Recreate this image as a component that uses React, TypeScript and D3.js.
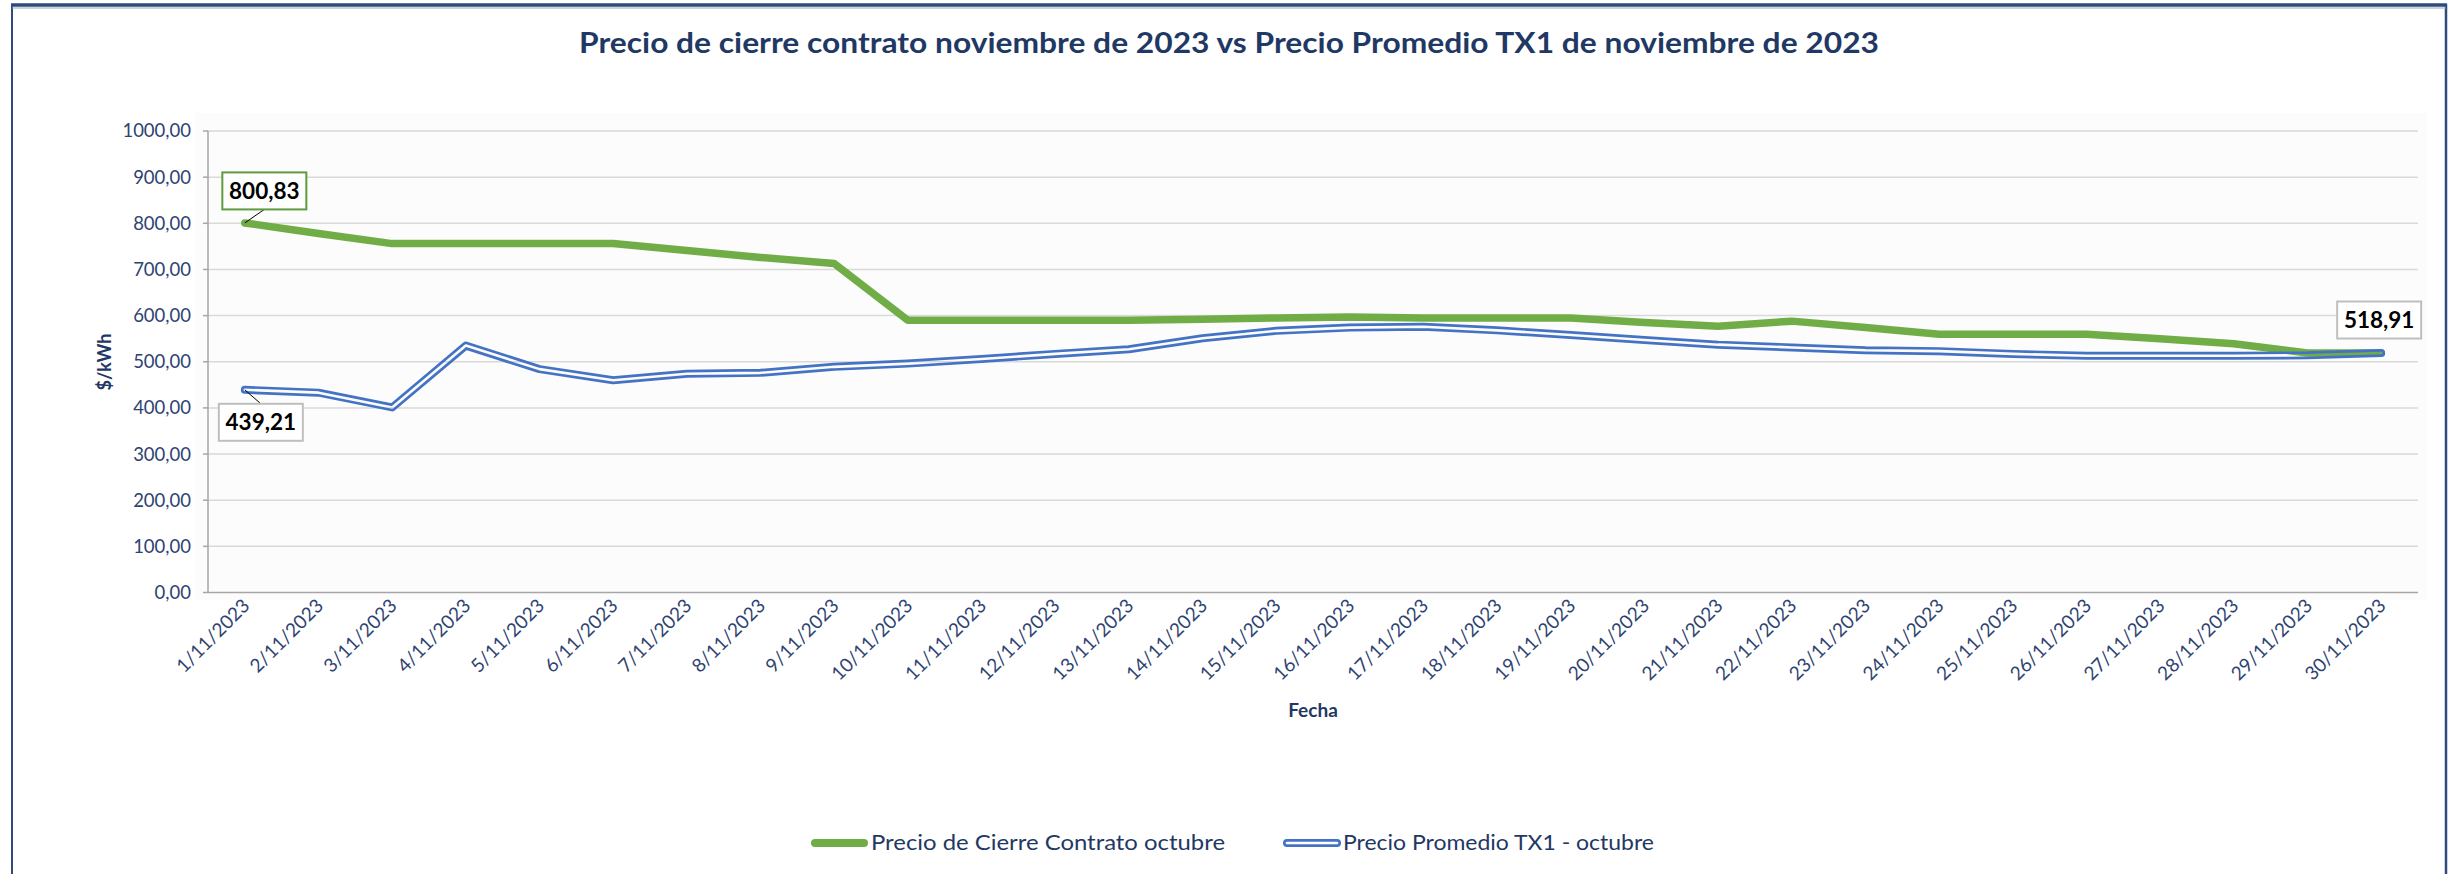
import React from "react";
import * as d3 from "d3";

// categories: days of November 2023
const fechas = [
  "1/11/2023", "2/11/2023", "3/11/2023", "4/11/2023", "5/11/2023", "6/11/2023",
  "7/11/2023", "8/11/2023", "9/11/2023", "10/11/2023", "11/11/2023", "12/11/2023",
  "13/11/2023", "14/11/2023", "15/11/2023", "16/11/2023", "17/11/2023", "18/11/2023",
  "19/11/2023", "20/11/2023", "21/11/2023", "22/11/2023", "23/11/2023", "24/11/2023",
  "25/11/2023", "26/11/2023", "27/11/2023", "28/11/2023", "29/11/2023", "30/11/2023",
];

const cierreContrato = [
  800.83, 778, 756, 756, 756, 756, 741, 726, 713, 590,
  590, 590, 590, 592, 595, 597, 595, 595, 595, 585,
  577, 588, 574, 559.5, 559.5, 559.5, 550, 539, 519, 519,
];

const promedioTX1 = [
  439.21, 433, 401, 535, 484, 460, 474, 476, 489, 496,
  506, 517, 527, 551, 567, 574, 576, 568, 558, 547,
  537, 531, 525, 523, 517, 513, 513, 513, 514, 518.91,
];

const yTicks = [0, 100, 200, 300, 400, 500, 600, 700, 800, 900, 1000];

const W = 2451;
const H = 874;
const left = 208;
const right = 2418;
const top = 131;
const bottom = 592.5;

const NAVY = "#1F3864";
const TICK = "#2E4371";
const GREEN = "#70AD47";
const BLUE = "#4472C4";

const fmt = (v: number) => d3.format(".2f")(v).replace(".", ",");

export default function App() {
  const x = d3.scalePoint<string>().domain(fechas).range([left, right]).padding(0.5);
  const y = d3.scaleLinear().domain([0, 1000]).range([bottom, top]);

  const line = d3
    .line<number>()
    .x((_, i) => x(fechas[i]) as number)
    .y((d) => y(d));

  const greenPath = line(cierreContrato) || "";
  const bluePath = line(promedioTX1) || "";

  // data labels: first of each series and last of TX1
  const labels = [
    { i: 0, v: cierreContrato[0], dx: 19.5, dy: -32, border: "#5E9A3E", leader: true },
    { i: 0, v: promedioTX1[0], dx: 16, dy: 32.5, border: "#BFBFBF", leader: true },
    { i: fechas.length - 1, v: promedioTX1[fechas.length - 1], dx: -2, dy: -33, border: "#BFBFBF", leader: false },
  ];

  const font = "Lato, 'Open Sans', sans-serif";

  return (
    <svg
      width={W}
      height={H}
      style={{ position: "absolute", left: 0, top: 0, background: "#fff" }}
      fontFamily={font}
    >
      <defs>
        <mask id="blueMask" maskUnits="userSpaceOnUse" x={0} y={0} width={W} height={H}>
          <rect x={0} y={0} width={W} height={H} fill="#fff" />
          <path d={bluePath} fill="none" stroke="#000" strokeWidth={2.6} strokeLinejoin="round" strokeLinecap="round" />
        </mask>
      </defs>

      {/* outer frame */}
      <line x1={12} x2={12} y1={4} y2={H + 10} stroke="#2F4B7C" strokeWidth={2} />
      <line x1={2446} x2={2446} y1={4} y2={H + 10} stroke="#2F4B7C" strokeWidth={2.5} />
      <line x1={11} x2={2447} y1={5} y2={5} stroke="#2F4B7C" strokeWidth={3.5} />
      <line x1={12} x2={2446} y1={8} y2={8} stroke="#9AA6BA" strokeWidth={1} />

      {/* plot area background */}
      <rect x={195} y={113} width={2232} height={487} fill="#FCFCFC" />

      <text x={1229} y={53} textAnchor="middle" fontSize={28} fontWeight={700} fill={NAVY} textLength={1300} lengthAdjust="spacingAndGlyphs">
        Precio de cierre contrato noviembre de 2023 vs Precio Promedio TX1 de noviembre de 2023
      </text>

      {/* gridlines */}
      {yTicks.map((t) => (
        <g key={t}>
          {t > 0 && <line x1={left} x2={right} y1={y(t)} y2={y(t)} stroke="#D9D9D9" strokeWidth={1.5} />}
          <line x1={left - 5} x2={left} y1={y(t)} y2={y(t)} stroke="#A6A6A6" strokeWidth={1.5} />
          <text x={191} y={y(t)} dy="0.35em" textAnchor="end" fontSize={18.5} fill={TICK}>
            {fmt(t)}
          </text>
        </g>
      ))}

      {/* axes */}
      <line x1={left} x2={left} y1={top} y2={bottom} stroke="#A6A6A6" strokeWidth={1.5} />
      <line x1={left} x2={right} y1={bottom} y2={bottom} stroke="#A6A6A6" strokeWidth={1.5} />

      {fechas.map((f) => (
        <text
          key={f}
          transform={`translate(${(x(f) as number) + 6},${607}) rotate(-45)`}
          textAnchor="end"
          fontSize={19}
          fill={TICK}
        >
          {f}
        </text>
      ))}

      <text x={1313} y={717} textAnchor="middle" fontSize={19} fontWeight={700} fill={NAVY}>
        Fecha
      </text>
      <text transform="translate(111,362) rotate(-90)" textAnchor="middle" fontSize={18} fontWeight={700} fill={NAVY}>
        $/kWh
      </text>

      {/* series */}
      <path d={greenPath} fill="none" stroke={GREEN} strokeWidth={7.5} strokeLinejoin="round" strokeLinecap="round" />
      <path d={bluePath} fill="none" stroke={BLUE} strokeWidth={8} strokeLinejoin="round" strokeLinecap="round" mask="url(#blueMask)" />

      {/* data labels */}
      {labels.map((l, k) => {
        const px = x(fechas[l.i]) as number;
        const py = y(l.v);
        const cx = px + l.dx;
        const cy = py + l.dy;
        const bw = 84;
        const bh = 37;
        const edgeY = l.dy < 0 ? cy + bh / 2 : cy - bh / 2;
        return (
          <g key={k}>
            {l.leader && <line x1={px} y1={py} x2={cx} y2={edgeY} stroke="#000" strokeWidth={1} />}
            <rect x={cx - bw / 2} y={cy - bh / 2} width={bw} height={bh} fill="#fff" stroke={l.border} strokeWidth={2} />
            <text x={cx} y={cy} dy="0.36em" textAnchor="middle" fontSize={22.5} fontWeight={700} fill="#000">
              {fmt(l.v)}
            </text>
          </g>
        );
      })}

      {/* legend */}
      <line x1={815} x2={864} y1={843} y2={843} stroke={GREEN} strokeWidth={8} strokeLinecap="round" />
      <text x={871} y={843} dy="0.35em" fontSize={21} fill={NAVY} textLength={354} lengthAdjust="spacingAndGlyphs">
        Precio de Cierre Contrato octubre
      </text>
      <line x1={1287} x2={1337} y1={843} y2={843} stroke={BLUE} strokeWidth={8} strokeLinecap="round" />
      <line x1={1287} x2={1337} y1={843} y2={843} stroke="#fff" strokeWidth={2.6} strokeLinecap="round" />
      <text x={1343} y={843} dy="0.35em" fontSize={21} fill={NAVY} textLength={311} lengthAdjust="spacingAndGlyphs">
        Precio Promedio TX1 - octubre
      </text>
    </svg>
  );
}
